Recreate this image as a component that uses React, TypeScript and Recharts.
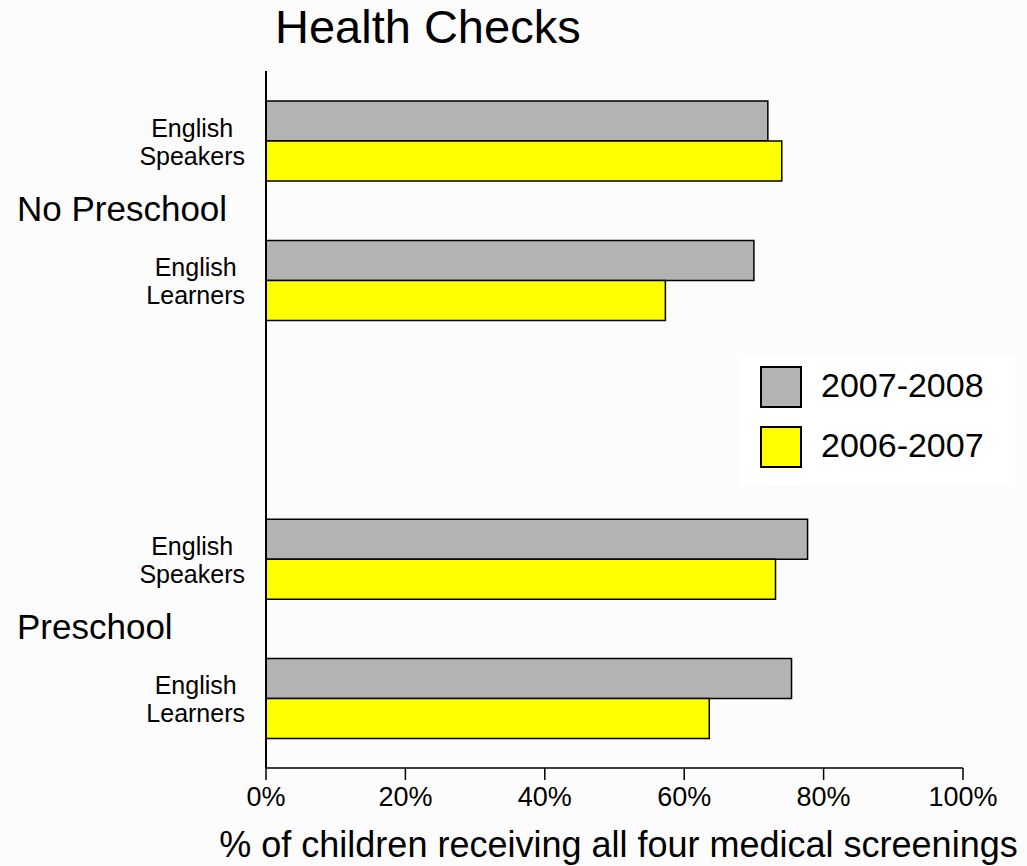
import { BarChart, Bar, XAxis, YAxis, Legend } from 'recharts';

const FONT = '"Liberation Sans", Arial, Helvetica, sans-serif';

// rows top to bottom, the blank row separates the two groups
const categories = ['English Speakers', 'English Learners', '', 'English Speakers', 'English Learners'];
const groupLabels = ['No Preschool', '', '', 'Preschool', ''];
const values0708 = [72.0, 70.0, null, 77.7, 75.4];
const values0607 = [74.0, 57.3, null, 73.1, 63.6];
const xTicks = [0, 20, 40, 60, 80, 100];
const legendOrder = ['y0708', 'y0607'];

const data = categories.map((c, i) => ({
  id: String(i),
  label: c,
  y0708: values0708[i],
  y0607: values0607[i],
}));

const colors = {
  y0708: '#b3b3b3',
  y0607: '#ffff00',
};

const TICK_FONT = 25;
const TICK_LINE = 28;

let ctx: CanvasRenderingContext2D | null = null;
function textWidth(s: string, size: number) {
  if (!ctx) ctx = document.createElement('canvas').getContext('2d');
  if (!ctx) return s.length * size * 0.5;
  ctx.font = `${size}px ${FONT}`;
  return ctx.measureText(s).width;
}

const CategoryTick = (props: any) => {
  const { x, y, payload } = props;
  const i = Number(payload.value);
  const lines = categories[i] ? categories[i].split(' ') : [];
  const widest = Math.max(0, ...lines.map((l) => textWidth(l, TICK_FONT)));
  const cx = x - widest / 2;
  return (
    <g>
      {lines.map((l, k) => (
        <text
          key={k}
          x={cx}
          y={y - 4 + k * TICK_LINE}
          textAnchor="middle"
          fontSize={TICK_FONT}
          fill="#000"
          fontFamily={FONT}
        >
          {l}
        </text>
      ))}
      {groupLabels[i] && (
        <text x={17} y={y + 80} fontSize={35} fill="#000" fontFamily={FONT}>
          {groupLabels[i]}
        </text>
      )}
    </g>
  );
};

const XLabel = ({ viewBox }: any) => (
  <text
    x={viewBox.x + viewBox.width / 2 + 4}
    y={viewBox.y + 89}
    textAnchor="middle"
    fontSize={36}
    fill="#000"
    fontFamily={FONT}
  >
    % of children receiving all four medical screenings
  </text>
);

const LegendBox = ({ payload }: any) => {
  const items = [...(payload || [])].sort(
    (a: any, b: any) => legendOrder.indexOf(a.dataKey) - legendOrder.indexOf(b.dataKey)
  );
  return (
    <svg width={276} height={130} style={{ display: 'block', background: '#ffffff' }}>
      {items.map((p: any, i: number) => (
        <g key={p.value}>
          <rect x={22} y={11 + i * 60} width={40} height={40} fill={p.color} stroke="#000" strokeWidth={2} />
          <text x={82} y={41 + i * 60} fontSize={34} fill="#000" fontFamily={FONT}>
            {p.value}
          </text>
        </g>
      ))}
    </svg>
  );
};

export default function App() {
  return (
    <div
      style={{
        position: 'absolute',
        left: 0,
        top: 0,
        width: 1027,
        height: 866,
        background: '#fcfcfc',
        fontFamily: FONT,
      }}
    >
      <div
        style={{
          position: 'absolute',
          left: 275,
          top: 4,
          fontSize: 47,
          lineHeight: '46px',
          color: '#000',
          whiteSpace: 'nowrap',
        }}
      >
        Health Checks
      </div>
      <BarChart
        width={1027}
        height={866}
        data={data}
        layout="vertical"
        barGap={0}
        barSize={40}
        margin={{ top: 71, right: 64, bottom: 38, left: 0 }}
      >
        <XAxis
          type="number"
          domain={[0, 100]}
          ticks={xTicks}
          tickFormatter={(v: number) => `${v}%`}
          height={60}
          stroke="#000"
          axisLine={{ stroke: '#000', strokeWidth: 1.5 }}
          tickLine={{ stroke: '#000', strokeWidth: 1.5 }}
          tickSize={12}
          tickMargin={7}
          tick={{ fill: '#000', fontSize: 27, fontFamily: FONT }}
          label={<XLabel />}
        />
        <YAxis
          type="category"
          dataKey="id"
          width={266}
          interval={0}
          axisLine={{ stroke: '#000', strokeWidth: 2 }}
          tickLine={false}
          tickSize={0}
          tickMargin={21}
          tick={<CategoryTick />}
        />
        <Legend
          layout="horizontal"
          verticalAlign="middle"
          align="center"
          content={<LegendBox />}
          wrapperStyle={{ left: 739, top: 356, width: 276, height: 130 }}
        />
        <Bar dataKey="y0708" name="2007-2008" fill={colors.y0708} stroke="#000" strokeWidth={1.5} isAnimationActive={false} />
        <Bar dataKey="y0607" name="2006-2007" fill={colors.y0607} stroke="#000" strokeWidth={1.5} isAnimationActive={false} />
      </BarChart>
    </div>
  );
}
